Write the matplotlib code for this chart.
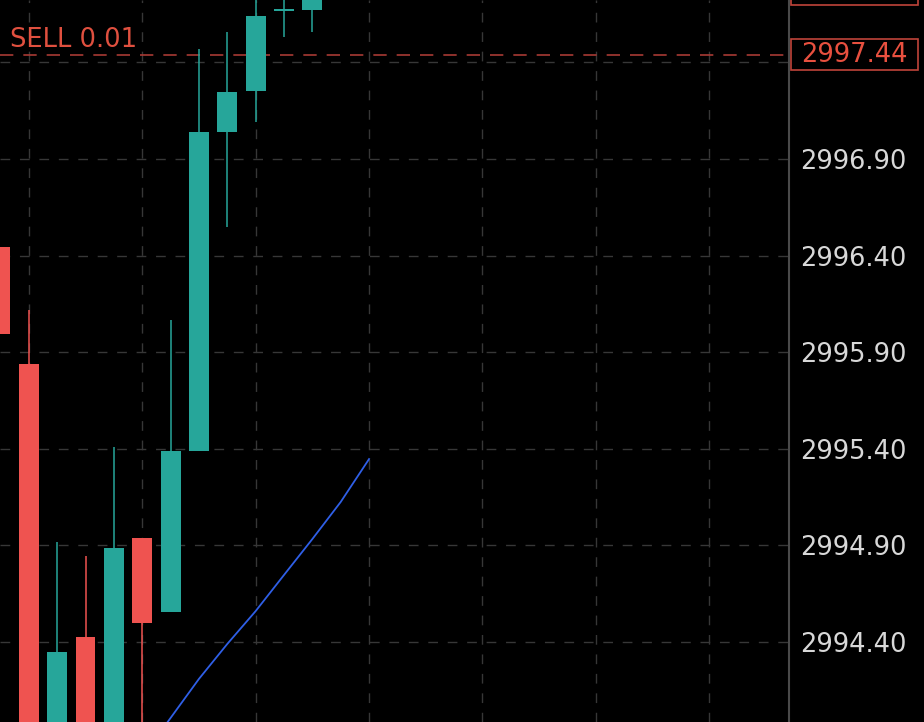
import numpy as np
import matplotlib
matplotlib.use('Agg')
import matplotlib.pyplot as plt
from matplotlib.patches import Rectangle
import matplotlib.transforms as mtransforms

# candle data (index = bar number, left edge of screen = 0)
opens = [2996.445, 2995.839, 2993.85, 2994.426, 2993.90, 2994.938,
         2994.555, 2995.389, 2997.040, 2997.252, 2997.664, 2997.671]
highs = [2996.445, 2996.118, 2994.918, 2994.845, 2995.409, 2994.938,
         2996.067, 2997.469, 2997.557, 2997.80, 2997.80, 2997.85]
lows = [2995.994, 2993.80, 2993.80, 2993.80, 2993.85, 2993.80,
        2994.555, 2995.389, 2996.548, 2997.092, 2997.531, 2997.557]
closes = [2995.994, 2993.85, 2994.348, 2993.90, 2994.887, 2994.498,
          2995.389, 2997.040, 2997.247, 2997.640, 2997.668, 2997.80]

# moving average line
ma_x = [5, 6, 7, 8, 9, 10, 11, 12, 13]
ma_y = [2993.805, 2994.007, 2994.209, 2994.390, 2994.560, 2994.747,
        2994.933, 2995.125, 2995.347]

price_ticks = [2994.40, 2994.90, 2995.40, 2995.90, 2996.40, 2996.90, 2997.40]
time_grid = [1, 5, 9, 13, 17, 21, 25]

sell_price = 2997.44
sell_label = 'SELL 0.01'
top_label_price = 2997.775

up_col = '#26a69a'
down_col = '#ef5350'
grid_col = '#373737'

fig = plt.figure(figsize=(9.24, 7.22), dpi=100, facecolor='black')
ax = fig.add_axes([0, 0, 789 / 924, 1])
ax.set_facecolor('black')

for i in range(len(opens)):
    o, h, l, c = opens[i], highs[i], lows[i], closes[i]
    col = up_col if c >= o else down_col
    ax.vlines(i, l, h, color=col, linewidth=1.1, zorder=3)
    bottom = min(o, c)
    height = max(abs(c - o), 0.012)
    ax.bar(i, height, bottom=bottom, width=0.7, color=col, zorder=4)

ax.plot(ma_x, ma_y, color='#2f5fe6', linewidth=1.3, zorder=5)

# grid
for t in price_ticks:
    ax.axhline(t, color=grid_col, linewidth=1, dashes=(7, 7), zorder=1)
for t in time_grid:
    ax.axvline(t, color=grid_col, linewidth=1, dashes=(7, 7), zorder=1)

# sell line
ax.axhline(sell_price, color='#a83a34', linewidth=1.2, dashes=(8, 6), zorder=2)
ax.text(0.35, sell_price + 0.038, sell_label, color='#e0503f', fontsize=18.5,
        va='baseline', ha='left')

ax.set_xlim(-0.016, 27.81)
ax.set_ylim(2993.986, 2997.723)

ax.yaxis.tick_right()
ax.set_yticks(price_ticks)
# the top label sits under the sell price box
ax.set_yticklabels(['%.2f' % t for t in price_ticks[:-1]] + [''])
ax.tick_params(axis='y', length=0, pad=8, labelsize=18.5, labelcolor='#d8d8d8')
ax.set_xticks([])
for s in ['top', 'bottom', 'left']:
    ax.spines[s].set_visible(False)
ax.spines['right'].set_color('#4a4a4a')
ax.spines['right'].set_linewidth(1.5)

# price boxes on the right axis
trans = mtransforms.blended_transform_factory(ax.transAxes, ax.transData)
for p, show in [(sell_price, True), (top_label_price, False)]:
    box = Rectangle((1.0025, p - 0.08), 0.161, 0.16, transform=trans,
                    facecolor='black', edgecolor='#c0443a', linewidth=1.2,
                    clip_on=False, zorder=10)
    ax.add_patch(box)
    if show:
        ax.text(1.083, p, '%.2f' % p, transform=trans, color='#e8503f',
                fontsize=18.5, ha='center', va='center', clip_on=False, zorder=11)

fig.savefig('out.png', dpi=100, facecolor='black')
